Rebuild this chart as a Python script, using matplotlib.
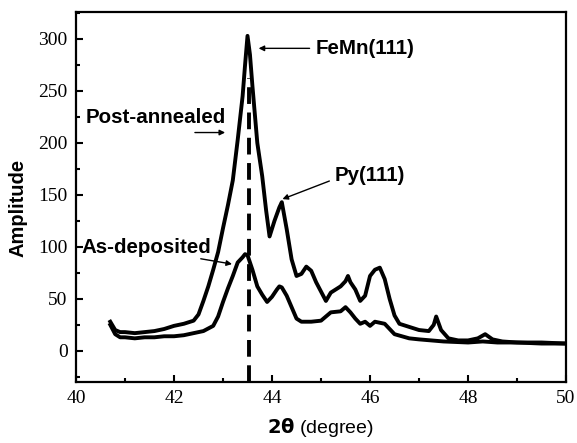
import matplotlib
matplotlib.use("Agg")
import matplotlib.pyplot as plt
from matplotlib.ticker import MultipleLocator

# Post-annealed curve
post_x = [40.7, 40.8, 40.9, 41.0, 41.2, 41.4, 41.6, 41.8, 42.0, 42.2, 42.4, 42.5, 42.6, 42.7,
          42.8, 42.9, 43.0, 43.1, 43.2, 43.3, 43.4, 43.45, 43.5, 43.55, 43.6, 43.7, 43.8, 43.88,
          43.95, 44.05, 44.15, 44.2, 44.3, 44.4, 44.5, 44.6, 44.7, 44.8, 44.9, 45.0, 45.1, 45.2,
          45.3, 45.4, 45.5, 45.55, 45.6, 45.7, 45.8, 45.9, 46.0, 46.1, 46.2, 46.3, 46.4, 46.5,
          46.6, 46.8, 47.0, 47.2, 47.3, 47.35, 47.45, 47.6, 47.8, 48.0, 48.2, 48.35, 48.5, 48.7,
          49.0, 49.5, 50.0]
post_y = [28, 20, 18, 18, 17, 18, 19, 21, 24, 26, 29, 35, 48, 62,
          78, 95, 118, 140, 164, 203, 245, 275, 303, 285, 255, 200, 168, 135,
          110, 125, 138, 143, 117, 88, 72, 74, 81, 77, 66, 57, 48, 56,
          59, 62, 67, 72, 66, 59, 48, 53, 72, 78, 80, 69, 50, 34,
          26, 23, 20, 19, 25, 33, 20, 12, 10, 10, 12, 16, 11, 9,
          8, 8, 7]

# As-deposited curve
asdep_x = [40.7, 40.8, 40.9, 41.0, 41.2, 41.4, 41.6, 41.8, 42.0, 42.2, 42.4, 42.6, 42.8, 42.9,
           43.0, 43.1, 43.2, 43.3, 43.4, 43.45, 43.5, 43.6, 43.7, 43.8, 43.9, 44.0, 44.1, 44.15,
           44.2, 44.3, 44.4, 44.5, 44.6, 44.8, 45.0, 45.2, 45.4, 45.5, 45.6, 45.7, 45.8, 45.9,
           46.0, 46.1, 46.2, 46.3, 46.5, 46.8, 47.0, 47.5, 48.0, 48.3, 48.6, 49.0, 49.5, 50.0]
asdep_y = [25, 16, 13, 13, 12, 13, 13, 14, 14, 15, 17, 19, 24, 33,
           47, 60, 72, 85, 90, 93, 92, 78, 62, 54, 47, 52, 59, 62,
           61, 53, 42, 31, 28, 28, 29, 37, 38, 42, 37, 31, 26, 28,
           24, 28, 27, 26, 16, 12, 11, 9, 8, 9, 8, 8, 7, 7]

peak_x = 43.53
xticks = [40, 42, 44, 46, 48, 50]
yticks = [0, 50, 100, 150, 200, 250, 300]

fig = plt.figure(figsize=(5.77, 4.43), dpi=100)
ax = fig.add_axes([0.1317, 0.1377, 0.8493, 0.8353])

ax.plot(post_x, post_y, color='black', lw=2.8, solid_joinstyle='round')
ax.plot(asdep_x, asdep_y, color='black', lw=2.8, solid_joinstyle='round')
ax.plot([peak_x, peak_x], [-30, 262], color='black', lw=2.8, dashes=(4.3, 2.2))

ax.set_xlim(40, 50)
ax.set_ylim(-30, 326)
ax.set_xticks(xticks)
ax.set_yticks(yticks)
ax.xaxis.set_minor_locator(MultipleLocator(1))
ax.yaxis.set_minor_locator(MultipleLocator(25))
ax.tick_params(which='both', direction='in', top=False, right=False, width=1.5)
ax.tick_params(which='major', length=5, pad=6)
ax.tick_params(which='minor', length=3)
for lab in ax.get_xticklabels() + ax.get_yticklabels():
    lab.set_fontfamily('Liberation Serif')
    lab.set_fontsize(14)
for s in ax.spines.values():
    s.set_linewidth(1.6)

fig.text(18 / 577, 1 - 208 / 443, 'Amplitude', rotation=90, ha='center', va='center',
         fontfamily='Liberation Sans', fontweight='bold', fontsize=14.5)
fig.text(0.555, 0.036, r'$\mathbf{2\theta}$ (degree)', ha='center', va='center',
         fontfamily='Liberation Sans', fontsize=14)

tf = dict(fontfamily='Liberation Sans', fontweight='bold', fontsize=14.8)
ap = dict(arrowstyle='-|>', color='black', lw=1.0, mutation_scale=8)

ax.annotate('FeMn(111)', xy=(43.67, 291), xytext=(44.88, 291), ha='left', va='center',
            arrowprops=ap, **tf)
ax.text(40.2, 224, 'Post-annealed', ha='left', va='center', **tf)
ax.annotate('', xy=(43.1, 210), xytext=(42.37, 210), arrowprops=ap)
ax.annotate('Py(111)', xy=(44.16, 145), xytext=(45.28, 169), ha='left', va='center',
            arrowprops=dict(arrowstyle='-|>', color='black', lw=1.0, mutation_scale=8,
                            relpos=(0, 0.3)), **tf)
ax.text(40.12, 99, 'As-deposited', ha='left', va='center', **tf)
ax.annotate('', xy=(43.24, 83), xytext=(42.49, 89), arrowprops=ap)

fig.savefig('out.png', dpi=100)
